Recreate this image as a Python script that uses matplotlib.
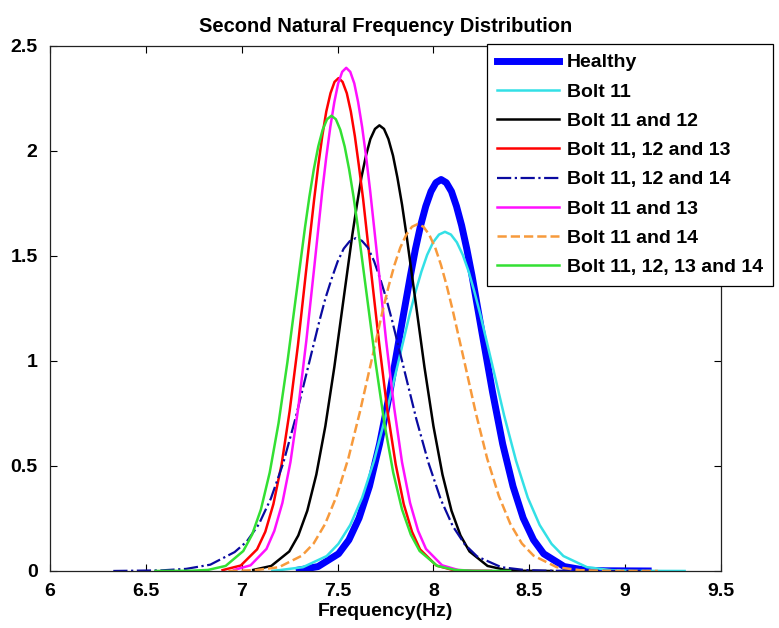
import numpy as np
import matplotlib
matplotlib.use("Agg")
import matplotlib.pyplot as plt

# values (frequency in Hz, density)
x_healthy = [7.30, 7.398, 7.505, 7.559, 7.612, 7.666, 7.719, 7.773, 7.826, 7.880,
             7.906, 7.933, 7.960, 7.987, 8.013, 8.040, 8.067, 8.094, 8.120, 8.147, 8.174,
             8.201, 8.254, 8.308, 8.361, 8.415, 8.468, 8.522, 8.575, 8.682, 8.789, 8.896, 9.12]
y_healthy = [0.005, 0.021, 0.082, 0.148, 0.252, 0.403, 0.605, 0.853, 1.131, 1.407,
             1.533, 1.645, 1.737, 1.807, 1.849, 1.864, 1.849, 1.807, 1.737, 1.645, 1.533,
             1.407, 1.131, 0.853, 0.605, 0.403, 0.252, 0.148, 0.082, 0.021, 0.004, 0.001, 0.0]

x_b11 = [7.16, 7.196, 7.319, 7.443, 7.504, 7.566, 7.628, 7.690, 7.751, 7.813, 7.875,
         7.906, 7.937, 7.967, 7.998, 8.029, 8.060, 8.091, 8.122, 8.153, 8.184, 8.214,
         8.245, 8.307, 8.369, 8.431, 8.492, 8.554, 8.616, 8.678, 8.801, 8.925, 9.048, 9.31]
y_b11 = [0.001, 0.004, 0.018, 0.071, 0.129, 0.219, 0.349, 0.524, 0.739, 0.980, 1.219,
         1.328, 1.425, 1.505, 1.565, 1.602, 1.615, 1.602, 1.565, 1.505, 1.425, 1.328,
         1.219, 0.980, 0.739, 0.524, 0.349, 0.219, 0.129, 0.071, 0.018, 0.004, 0.0005, 0.0]

x_b11_12 = [7.060, 7.154, 7.248, 7.295, 7.342, 7.389, 7.436, 7.483, 7.530, 7.577,
            7.601, 7.624, 7.648, 7.671, 7.695, 7.718, 7.742, 7.765, 7.789, 7.812, 7.836,
            7.859, 7.906, 7.953, 8.000, 8.047, 8.094, 8.141, 8.188, 8.282, 8.376, 8.470, 8.62]
y_b11_12 = [0.005, 0.024, 0.093, 0.169, 0.287, 0.459, 0.689, 0.971, 1.287, 1.602,
            1.745, 1.873, 1.978, 2.057, 2.105, 2.122, 2.105, 2.057, 1.978, 1.873, 1.745,
            1.602, 1.287, 0.971, 0.689, 0.459, 0.287, 0.169, 0.093, 0.024, 0.005, 0.001, 0.0]

x_b11_12_13 = [6.900, 6.995, 7.080, 7.123, 7.165, 7.208, 7.250, 7.293, 7.335, 7.378,
               7.399, 7.420, 7.441, 7.463, 7.484, 7.505, 7.526, 7.548, 7.569, 7.590, 7.611,
               7.633, 7.675, 7.718, 7.760, 7.803, 7.845, 7.888, 7.930, 8.015, 8.100, 8.185, 8.30]
y_b11_12_13 = [0.004, 0.026, 0.103, 0.187, 0.318, 0.508, 0.762, 1.074, 1.423, 1.772,
               1.930, 2.071, 2.188, 2.275, 2.329, 2.347, 2.329, 2.275, 2.188, 2.071, 1.930,
               1.772, 1.423, 1.074, 0.762, 0.508, 0.318, 0.187, 0.103, 0.026, 0.005, 0.001, 0.0]

x_b11_12_14 = [6.33, 6.583, 6.710, 6.836, 6.963, 7.026, 7.089, 7.152, 7.216, 7.279, 7.342, 7.405,
               7.437, 7.469, 7.500, 7.532, 7.563, 7.595, 7.627, 7.658, 7.690, 7.722, 7.753,
               7.785, 7.848, 7.911, 7.975, 8.038, 8.101, 8.164, 8.228, 8.354, 8.481, 8.607, 9.13]
y_b11_12_14 = [0.0, 0.003, 0.010, 0.030, 0.090, 0.140, 0.222, 0.345, 0.512, 0.722, 0.956, 1.190,
               1.300, 1.392, 1.473, 1.535, 1.570, 1.585, 1.572, 1.540, 1.476, 1.392, 1.300,
               1.190, 0.956, 0.722, 0.512, 0.341, 0.213, 0.126, 0.069, 0.018, 0.004, 0.001, 0.0]

x_b11_13 = [6.960, 7.046, 7.129, 7.170, 7.212, 7.254, 7.295, 7.337, 7.379, 7.420,
            7.441, 7.462, 7.483, 7.503, 7.524, 7.545, 7.566, 7.587, 7.607, 7.628, 7.649,
            7.670, 7.712, 7.753, 7.795, 7.836, 7.878, 7.920, 7.961, 8.045, 8.128, 8.211, 8.30]
y_b11_13 = [0.005, 0.027, 0.105, 0.191, 0.324, 0.518, 0.778, 1.097, 1.453, 1.809,
            1.971, 2.114, 2.233, 2.322, 2.377, 2.396, 2.377, 2.322, 2.233, 2.114, 1.971,
            1.809, 1.453, 1.097, 0.778, 0.518, 0.324, 0.191, 0.105, 0.027, 0.005, 0.001, 0.0]

x_b11_14 = [6.93, 7.073, 7.194, 7.314, 7.375, 7.435, 7.495, 7.556, 7.616, 7.677, 7.737,
            7.767, 7.797, 7.827, 7.858, 7.888, 7.918, 7.948, 7.978, 8.009, 8.039, 8.069,
            8.099, 8.160, 8.220, 8.280, 8.341, 8.401, 8.461, 8.522, 8.643, 8.763, 8.884, 9.17]
y_b11_14 = [0.0, 0.004, 0.018, 0.073, 0.131, 0.224, 0.357, 0.536, 0.756, 1.002, 1.247,
            1.359, 1.458, 1.540, 1.601, 1.639, 1.652, 1.639, 1.601, 1.540, 1.458, 1.359,
            1.247, 1.002, 0.756, 0.536, 0.357, 0.224, 0.131, 0.073, 0.018, 0.004, 0.0005, 0.0]

x_b11_12_13_14 = [6.55, 6.732, 6.824, 6.916, 7.008, 7.054, 7.100, 7.146, 7.192, 7.238, 7.284, 7.330,
                  7.353, 7.376, 7.399, 7.422, 7.445, 7.468, 7.491, 7.514, 7.537, 7.560, 7.583,
                  7.606, 7.652, 7.698, 7.744, 7.790, 7.836, 7.882, 7.928, 8.020, 8.112, 8.204, 8.40]
y_b11_12_13_14 = [0.0, 0.001, 0.005, 0.024, 0.095, 0.173, 0.293, 0.469, 0.704, 0.993, 1.315, 1.636,
                  1.783, 1.913, 2.021, 2.101, 2.151, 2.168, 2.151, 2.101, 2.021, 1.913, 1.783,
                  1.636, 1.315, 0.993, 0.704, 0.469, 0.293, 0.173, 0.095, 0.024, 0.005, 0.001, 0.0]

labels = ["Healthy", "Bolt 11", "Bolt 11 and 12", "Bolt 11, 12 and 13", "Bolt 11, 12 and 14",
          "Bolt 11 and 13", "Bolt 11 and 14", "Bolt 11, 12, 13 and 14"]
xticks = [6, 6.5, 7, 7.5, 8, 8.5, 9, 9.5]
xticklabels = ["6", "6.5", "7", "7.5", "8", "8.5", "9", "9.5"]
yticks = [0, 0.5, 1, 1.5, 2, 2.5]
yticklabels = ["0", "0.5", "1", "1.5", "2", "2.5"]

plt.rcParams['font.family'] = ['Liberation Sans', 'DejaVu Sans']
plt.rcParams['font.weight'] = 'bold'

fig = plt.figure(figsize=(7.79, 6.28), dpi=100)
ax = fig.add_axes([0.0642, 0.0908, 0.8614, 0.836])

series = [(x_healthy, y_healthy), (x_b11, y_b11), (x_b11_12, y_b11_12), (x_b11_12_13, y_b11_12_13),
          (x_b11_12_14, y_b11_12_14), (x_b11_13, y_b11_13), (x_b11_14, y_b11_14),
          (x_b11_12_13_14, y_b11_12_13_14)]
styles = [('#0000ff', '-', 5.0), ('#33e0e6', '-', 1.8), ('#000000', '-', 1.8), ('#ff0000', '-', 1.8),
          ('#0a0aa0', '-.', 1.6), ('#ff10ff', '-', 1.8), ('#f79a3c', '--', 1.8), ('#33e033', '-', 1.8)]

for (xs, ys), (c, ls, lw), lab in zip(series, styles, labels):
    ax.plot(xs, ys, color=c, linestyle=ls, linewidth=lw, label=lab)

ax.set_xlim(6, 9.5)
ax.set_ylim(0, 2.5)
ax.set_xticks(xticks)
ax.set_xticklabels(xticklabels)
ax.set_yticks(yticks)
ax.set_yticklabels(yticklabels)
ax.tick_params(direction='in', length=5, width=0.8, top=True, right=True, labelsize=14, pad=9)
for sp in ax.spines.values():
    sp.set_linewidth(0.9)
    sp.set_color('#222222')

ax.set_title("Second Natural Frequency Distribution", fontsize=14.5, fontweight='bold', pad=10)
ax.set_xlabel("Frequency(Hz)", fontsize=14, fontweight='bold', labelpad=2)

leg = ax.legend(loc='upper left', bbox_to_anchor=(487 / 779, 1 - 44 / 628), bbox_transform=fig.transFigure,
                fontsize=14, frameon=True, fancybox=False, edgecolor='black', framealpha=1,
                handlelength=3.2, handletextpad=0.4, labelspacing=0.6, borderpad=0.5, borderaxespad=0)
leg.get_frame().set_linewidth(0.9)

plt.savefig("out.png", dpi=100)
